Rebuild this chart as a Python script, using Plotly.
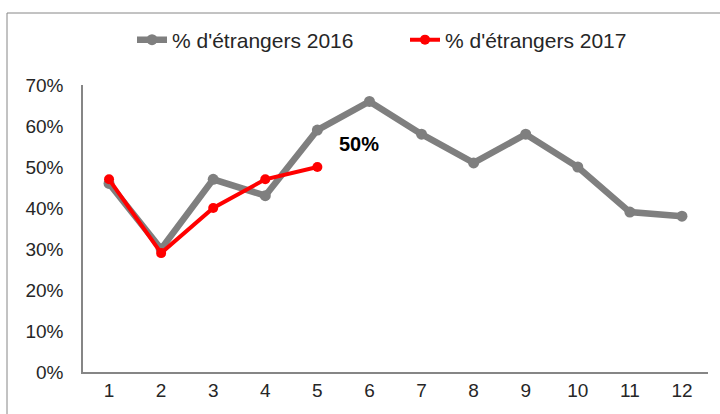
import plotly.graph_objects as go

months = list(range(1, 13))
pct_2016 = [46, 30, 47, 43, 59, 66, 58, 51, 58, 50, 39, 38]
months_2017 = [1, 2, 3, 4, 5]
pct_2017 = [47, 29, 40, 47, 50]
y_ticks = [0, 10, 20, 30, 40, 50, 60, 70]
name_2016 = "% d'étrangers 2016"
name_2017 = "% d'étrangers 2017"

FONT = "Liberation Sans, Arial, sans-serif"
AXIS = "#868686"

fig = go.Figure()
fig.add_trace(go.Scatter(
    x=months, y=pct_2016, name=name_2016, mode="lines+markers",
    line=dict(color="#7f7f7f", width=6.5),
    marker=dict(color="#7f7f7f", size=11),
))
fig.add_trace(go.Scatter(
    x=months_2017, y=pct_2017, name=name_2017, mode="lines+markers",
    line=dict(color="#ff0000", width=4),
    marker=dict(color="#ff0000", size=10),
))

fig.add_annotation(
    x=months_2017[-1], y=pct_2017[-1], text=f"<b>{pct_2017[-1]}%</b>",
    showarrow=False, xshift=42, yshift=23,
    font=dict(family=FONT, size=20, color="#000000"),
)

fig.add_shape(
    type="rect", xref="paper", yref="paper",
    x0=(7 - 83) / 625, x1=1.1, y0=-0.4, y1=1 + (85 - 13) / 287,
    line=dict(color=AXIS, width=1), fillcolor="rgba(0,0,0,0)", layer="below",
)

fig.update_layout(
    width=720, height=414,
    margin=dict(l=83, r=12, t=85, b=42),
    paper_bgcolor="white", plot_bgcolor="white",
    font=dict(family=FONT, size=19, color="#262626"),
    showlegend=True,
    legend=dict(
        orientation="h", x=(132 - 83) / 625, xanchor="left", y=1 + (85 - 40) / 287,
        yanchor="middle", font=dict(size=21, color="#262626"),
        entrywidth=228, entrywidthmode="pixels",
        bgcolor="rgba(0,0,0,0)",
    ),
    xaxis=dict(
        range=[0.5, 12.5], tickvals=months, ticktext=[str(m) for m in months],
        showline=True, linecolor=AXIS, linewidth=1.5, showgrid=False,
        zeroline=False, ticks="", ticklabelstandoff=0,
    ),
    yaxis=dict(
        range=[0, 70], tickvals=y_ticks, ticktext=[f"{v}%" for v in y_ticks],
        showline=True, linecolor=AXIS, linewidth=1.5, showgrid=False,
        zeroline=False, ticks="", ticklabelstandoff=14,
    ),
)

fig.write_html(
    "out.html",
    config={"displayModeBar": False},
    post_script="document.body.style.margin='0';document.body.style.overflow='hidden';",
)
